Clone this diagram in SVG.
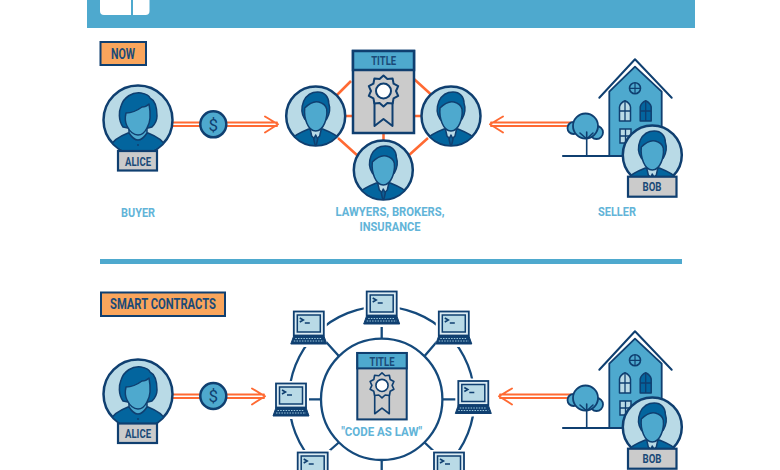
<svg xmlns="http://www.w3.org/2000/svg" xmlns:xlink="http://www.w3.org/1999/xlink" width="780" height="470" viewBox="0 0 780 470">
<style>
.n{stroke:#0f3f70;stroke-linejoin:round;stroke-linecap:round}
.t{font-family:"Roboto","Liberation Sans",sans-serif;font-weight:700;text-anchor:middle;dominant-baseline:central;fill:#1a4a78;font-size:13px}
.c{fill:#62b4d8;font-size:13.5px}
.b{font-size:14px}
.o{fill:none;stroke:#ff6a33;stroke-width:2.5}
.oo{fill:none;stroke:#ff6a33;stroke-width:1.9;stroke-linecap:round;stroke-linejoin:round}
.r{fill:none;stroke:#154a7c;stroke-width:2.3}
.tag{fill:#f9a55c;stroke:#0f3f70;stroke-width:2}
.lab{fill:#cbcbcb;stroke:#0f3f70;stroke-width:2.2}
</style>
<defs>
<clipPath id="c30"><circle r="29"/></clipPath>
<clipPath id="c35"><circle r="34"/></clipPath>
<g id="man">
<circle r="29.5" fill="#b9dae6" stroke="#0f3f70" stroke-width="2.5"/>
<g clip-path="url(#c30)" class="n" stroke-width="1.5">
<path d="M-25 32V24Q-22 19-7 13H7Q22 19 25 24V32Z" fill="#03659e"/>
<path d="M-6 11L-4 20 0 24 4 20 6 11Z" fill="#b9dae6"/>
<path d="M0 19L-2 23 0 32 2 23Z" fill="#0f5f95"/>
<path d="M-11 3C-15-3-14-10-12-15-8-23-2-24 2-24 9-24 13-19 13-13 15-7 14-2 11 3L8 6H-8Z" fill="#03659e"/>
<path d="M-11-8C-6-13-1-15 3-14 7-13 10-11 11-7 12 2 8 15 0 15-8 15-12 2-11-8Z" fill="#4ea9ce"/>
</g>
</g>
<g id="woman">
<circle r="34.5" fill="#b9dae6" stroke="#0f3f70" stroke-width="2.5"/>
<g clip-path="url(#c35)" class="n" stroke-width="1.5">
<path d="M-27 36V26Q-25 19-10 13H10Q25 19 27 26V36Z" fill="#03659e"/>
<path d="M-9 6V13Q0 27 9 13V6Z" fill="#4ea9ce"/>
<path d="M-15 7C-20 0-19-9-17-14-14-23-6-28 3-27 8-26 11-25 12-22 18-19 19-10 19-4 19 0 17 4 14 7L10 8H-10Z" fill="#03659e"/>
<path d="M-12-7C-6-7 0-10 4-13 6-13 9-14 11-16 13-6 12 3 9 8 6 14 2 15 0 15-6 15-9 10-11 6-13 2-13-3-12-7Z" fill="#4ea9ce"/>
</g>
<circle cx="0" cy="25" r="1" fill="#0f3f70"/>
</g>
<g id="doc">
<rect x="-30.500" y="-41" width="61" height="82" fill="#cbcbcb" stroke="#0f3f70" stroke-width="2.500"/>
<rect x="-30.500" y="-41" width="61" height="19" fill="#4ea9ce" stroke="#0f3f70" stroke-width="2.500"/>
<path class="n" d="M-9-2V34L0 27 9 34V-2Z" fill="#cbcbcb" stroke-width="2"/>
<polygon class="n" transform="translate(0 -1)" points="0,-15.500 3.900,-11.900 9.100,-12.500 10.100,-7.300 14.700,-4.800 12.500,0 14.700,4.800 10.100,7.300 9.100,12.500 3.900,11.900 0,15.500 -3.900,11.900 -9.100,12.500 -10.100,7.300 -14.700,4.800 -12.500,0 -14.700,-4.800 -10.100,-7.300 -9.100,-12.500 -3.900,-11.900" fill="#cbcbcb" stroke-width="2"/>
<circle cy="-1" r="7.500" fill="#fff" stroke="#0f3f70" stroke-width="2"/>
</g>
<g id="laptop">
<rect x="-17" y="-18" width="34" height="36" fill="#fff" stroke="#fff" stroke-width="2"/>
<rect x="-15" y="-16.500" width="30" height="24" fill="#dcecf3" stroke="#0f3f70" stroke-width="1.800"/>
<rect x="-11.500" y="-13" width="23" height="17" fill="#b9dae6" stroke="#0f3f70" stroke-width="1.500"/>
<path d="M-9-10L-5.500-8-9-6M-4-5H1" fill="none" stroke="#0f3f70" stroke-width="1.600"/>
<path d="M-15 7.500H15L18 16H-18Z" fill="#0f3f70" stroke="#0f3f70" stroke-width="1" stroke-linejoin="round"/>
<path d="M-13.500 10.500H13.500M-15 13H15" stroke="#9cc7dc" stroke-width="1.200" stroke-dasharray="1.500 1.200"/>
</g>
<g id="estate">
<path d="M563 156H630" class="n" stroke-width="2.200" fill="none"/>
<path class="n" d="M609.300 156V91.700L635 66.700 661.700 91.700V156Z" fill="#4ea9ce" stroke-width="1.800"/>
<path class="n" d="M599.300 97.700L635 59.300 671.700 97.700" fill="none" stroke-width="2"/>
<circle cx="635" cy="88.300" r="5.500" fill="#4ea9ce" stroke="#0f3f70" stroke-width="1.600"/>
<path d="M629.500 88.300H640.500M635 82.800V93.800" stroke="#0f3f70" stroke-width="1.200"/>
<path class="n" d="M619.500 121V107Q620 103 625 100.700 630 103 630.500 107V121Z" fill="#b9dae6" stroke-width="1.500"/>
<path d="M625 101V121M619.500 111H630.500" stroke="#0f3f70" stroke-width="1.300"/>
<path class="n" d="M640.200 121V107Q641 103 645.700 100.700 650.500 103 651.200 107V121Z" fill="#03659e" stroke-width="1.500"/>
<path d="M645.700 101V121M640.200 111H651.200" stroke="#0f3f70" stroke-width="1.300"/>
<rect x="620" y="129" width="11" height="14" fill="#b9dae6" stroke="#0f3f70" stroke-width="1.500"/>
<path d="M625.500 129V143M620 136H631" stroke="#0f3f70" stroke-width="1.300"/>
<g class="n" stroke-width="1.800" fill="#4ea9ce">
<circle cx="573.500" cy="128" r="6"/><circle cx="596.500" cy="132.500" r="6.500"/><circle cx="585.500" cy="126" r="12.500"/>
</g>
<path class="n" d="M586.700 156V132M586.700 139L580 133M586.700 139L593 133" fill="none" stroke-width="1.600"/>
<use xlink:href="#man" href="#man" x="652.300" y="155"/>
<rect class="lab" x="628" y="176.700" width="48.500" height="20"/>
</g>
</defs>
<rect width="780" height="470" fill="#fff"/>

<g id="header">
<rect x="87" y="0" width="608" height="28" fill="#4ea9ce"/>
<rect x="100" y="-8" width="49.500" height="23" rx="4" fill="#fff"/>
<rect x="131" y="-8" width="2" height="23" fill="#4ea9ce"/>
</g>

<g id="connectors">
<g class="o">
<path d="M316 116L351 81M414 79L436 99M338 138L358 156M428 138L408 156M345 116H353M414 116H422M383.500 133V141"/>
</g>
<g class="oo">
<path d="M172 122.500H277M172 126H277M265 116.500L278 124.300 265 132.500"/>
<path d="M172 394.500H264M172 398H264M252 388.500L265 396.300 252 404.500"/>
<path d="M491 122.500H571M491 126H571M503 116.500L490 124.300 503 132.500"/>
<path d="M500 394.500H571M500 398H571M512 388.500L499 396.300 512 404.500"/>
</g>
<circle class="r" cx="381.700" cy="399.300" r="92.700"/>
<path class="r" d="M381.700 324V338.600M324.300 340L338.800 356M438.300 340L424.600 356M305 399.300H321M443 399.300H458M328 452L338.800 442.500M436.700 454L424.600 442.500M381.700 460V472"/>
</g>

<g id="section-now">
<rect class="tag" x="100.500" y="42" width="45.500" height="23"/>
<text class="t b" x="123" y="54" textLength="24" lengthAdjust="spacingAndGlyphs">NOW</text>
</g>

<g id="alice-1">
<use xlink:href="#woman" href="#woman" x="138" y="120"/>
<rect class="lab" x="118" y="151" width="39" height="19.500"/>
<text class="t" x="138" y="161" textLength="26" lengthAdjust="spacingAndGlyphs">ALICE</text>
</g>
<text class="t c" x="138" y="211.500" textLength="34" lengthAdjust="spacingAndGlyphs">BUYER</text>

<g id="dollar-1">
<circle cx="213.300" cy="124.300" r="13" fill="#4ea9ce" stroke="#0f3f70" stroke-width="2.500"/>
<text class="t" x="213.300" y="124.500" style="font-size:17px;fill:#0f3f70;font-weight:400">$</text>
</g>

<g id="lawyer-left"><use xlink:href="#man" href="#man" x="315.700" y="116"/></g>
<g id="lawyer-right"><use xlink:href="#man" href="#man" x="451" y="116"/></g>
<g id="lawyer-bottom"><use xlink:href="#man" href="#man" x="383.300" y="170"/></g>
<g id="title-1">
<use xlink:href="#doc" href="#doc" x="383.500" y="92"/>
<text class="t" x="383.700" y="60.700" textLength="25" lengthAdjust="spacingAndGlyphs">TITLE</text>
</g>
<text class="t c" x="390" y="211" textLength="109" lengthAdjust="spacingAndGlyphs">LAWYERS, BROKERS,</text>
<text class="t c" x="390" y="226" textLength="61" lengthAdjust="spacingAndGlyphs">INSURANCE</text>

<g id="bob-1">
<use xlink:href="#estate" href="#estate"/>
<text class="t" x="652" y="186" textLength="19" lengthAdjust="spacingAndGlyphs">BOB</text>
</g>
<text class="t c" x="617" y="211" textLength="38" lengthAdjust="spacingAndGlyphs">SELLER</text>

<rect id="divider" x="100" y="259" width="582" height="5" fill="#4ea9ce"/>

<g id="section-smart">
<rect class="tag" x="101" y="292.500" width="124" height="23.500"/>
<text class="t b" x="163" y="304" textLength="106" lengthAdjust="spacingAndGlyphs">SMART CONTRACTS</text>
</g>

<g id="alice-2">
<use xlink:href="#woman" href="#woman" x="138" y="394"/>
<rect class="lab" x="118" y="423.500" width="39" height="19.500"/>
<text class="t" x="138" y="433" textLength="26" lengthAdjust="spacingAndGlyphs">ALICE</text>
</g>

<g id="dollar-2">
<circle cx="213.300" cy="396" r="13" fill="#4ea9ce" stroke="#0f3f70" stroke-width="2.500"/>
<text class="t" x="213.300" y="396.200" style="font-size:17px;fill:#0f3f70;font-weight:400">$</text>
</g>

<g id="inner-circle">
<circle cx="381.700" cy="399.300" r="60.700" fill="#fff" stroke="#154a7c" stroke-width="2.300"/>
</g>
<g id="title-2">
<use xlink:href="#doc" href="#doc" transform="translate(382 386.200) scale(.81)"/>
<text class="t" x="382" y="361" textLength="25" lengthAdjust="spacingAndGlyphs">TITLE</text>
</g>
<text class="t c" x="381.700" y="431" textLength="81" lengthAdjust="spacingAndGlyphs">"CODE AS LAW"</text>

<g id="laptop-1"><use xlink:href="#laptop" href="#laptop" x="381.700" y="308"/></g>
<g id="laptop-2"><use xlink:href="#laptop" href="#laptop" x="453.800" y="328"/></g>
<g id="laptop-3"><use xlink:href="#laptop" href="#laptop" x="473.300" y="397.500"/></g>
<g id="laptop-4"><use xlink:href="#laptop" href="#laptop" x="449" y="469"/></g>
<g id="laptop-5"><use xlink:href="#laptop" href="#laptop" x="312.700" y="469"/></g>
<g id="laptop-6"><use xlink:href="#laptop" href="#laptop" x="291" y="400"/></g>
<g id="laptop-7"><use xlink:href="#laptop" href="#laptop" x="308.800" y="328"/></g>

<g id="bob-2">
<use xlink:href="#estate" href="#estate" y="272"/>
<text class="t" x="652" y="458" textLength="19" lengthAdjust="spacingAndGlyphs">BOB</text>
</g>
</svg>
